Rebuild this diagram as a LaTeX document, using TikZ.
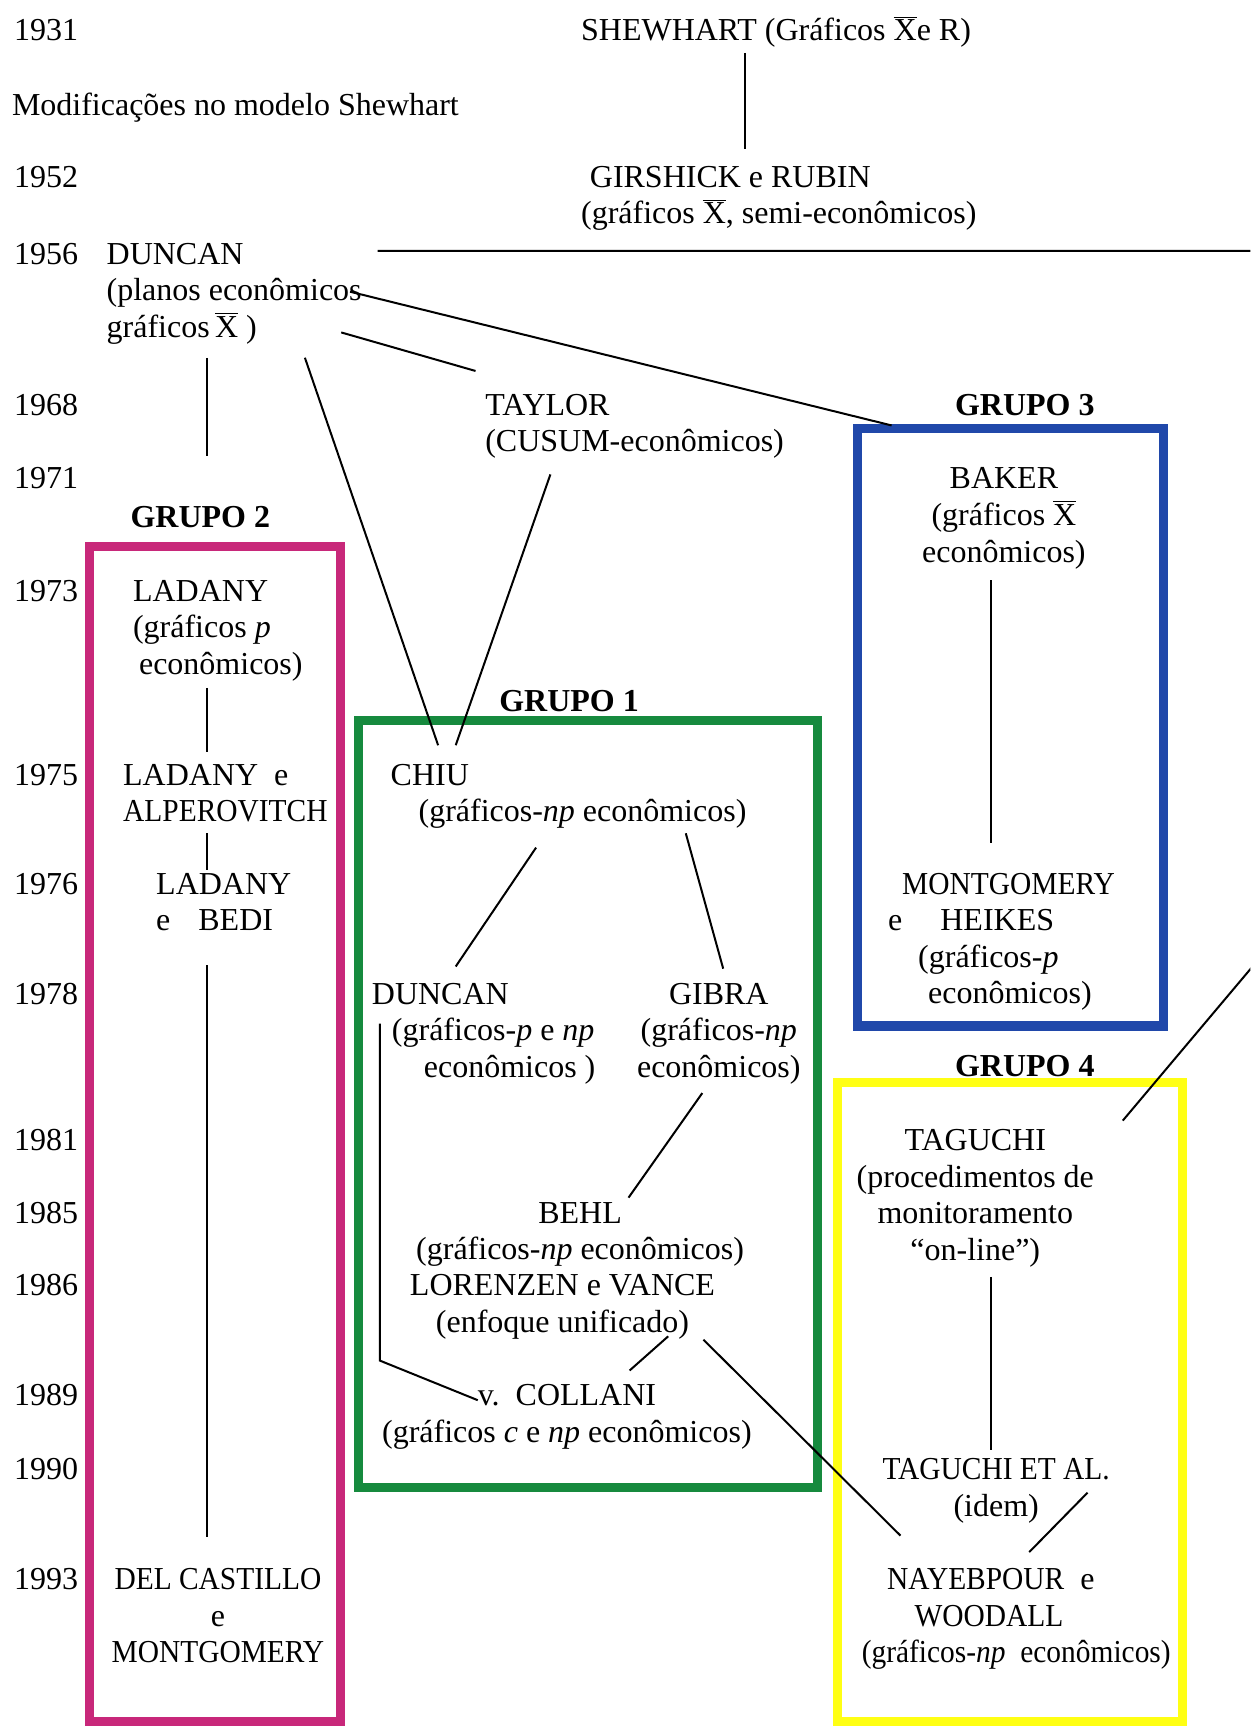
\documentclass[tikz,border=0pt]{standalone}
\usepackage{fontspec}
\setmainfont{Liberation Serif}
\usetikzlibrary{calc}

\definecolor{rosa}{RGB}{200,40,122}
\definecolor{verde}{RGB}{22,138,62}
\definecolor{azul}{RGB}{32,72,170}
\definecolor{amarelo}{RGB}{255,255,20}

\newcommand{\xbarra}{\ensuremath{\overline{\hbox{X}}}}
\newcommand{\estreito}[1]{\scalebox{0.92}[1]{#1}}

\begin{document}
\begin{tikzpicture}[x=0.5506pt, y=-0.5506pt, line width=1pt,
    texto/.style={inner sep=0pt, font=\fontsize{16}{18.3}\selectfont,
        execute at begin node={\lineskiplimit=-\maxdimen\strut}},
    ano/.style={texto, anchor=north west},
    autor/.style={texto, anchor=north, align=center},
    autoresq/.style={texto, anchor=north west, align=left},
    grupo/.style={texto, anchor=north, font=\fontsize{16}{18.3}\selectfont\bfseries},
    caixa/.style={line width=4.6pt}]
    \clip[use as bounding box] (0, 0) rectangle (1136, 1568);

    % years on the left
    \foreach \ano/\yy in {1931/27, 1952/160, 1956/230, 1968/367, 1971/434, 1973/536,
        1975/703, 1976/802, 1978/902, 1981/1035, 1985/1101, 1986/1167,
        1989/1267, 1990/1334, 1993/1434}
        \node[ano] (a\ano) at (12, \yy-14) {\ano};
    \node[ano] (modif) at (10, 81) {Modificações no modelo Shewhart};

    % draw group boxes
    \draw[caixa, rosa] (81.5, 496.5) rectangle (309.5, 1564);
    \draw[caixa, verde] (326, 654.5) rectangle (742.5, 1351);
    \draw[caixa, azul] (779, 389.5) coordinate (g3nw) rectangle (1057, 932);
    \draw[caixa, amarelo] (760.5, 983.5) rectangle (1074.5, 1564);

    \node[grupo] (grupo1) at (517, 622) {GRUPO 1};
    \node[grupo] (grupo2) at (182, 455) {GRUPO 2};
    \node[grupo] (grupo3) at (931, 353) {GRUPO 3};
    \node[grupo] (grupo4) at (931, 954) {GRUPO 4};

    % authors
    \node[texto, anchor=north] (shewhart) at (705, 13) {SHEWHART (Gráficos \xbarra{}e R)};
    \node[autoresq] (girshick) at (527, 146) {\strut\hspace*{4.4pt}GIRSHICK e RUBIN\\(gráficos \xbarra, semi-econômicos)};
    \node[autoresq] (duncan) at (96, 216) {\strut DUNCAN\\(planos econômicos\\gráficos\,\xbarra\ )};
    \node[autoresq] (taylor) at (440, 353) {\strut TAYLOR\\(CUSUM-econômicos)};
    \node[autor] (baker) at (912, 420) {\strut BAKER\\(gráficos \xbarra\\econômicos)};
    \node[autoresq] (montg) at (806, 788) {\strut\hspace*{7pt}\estreito{MONTGOMERY}\\e\hspace*{19pt}HEIKES\\\hspace*{15pt}(gráficos-\textit{p}\\\hspace*{20pt}econômicos)};

    \node[autoresq] (ladanyA) at (120, 522) {\strut LADANY\\(gráficos \textit{p}\\\hspace*{3pt}econômicos)};
    \node[autoresq] (ladanyB) at (111, 689) {\strut LADANY\ \ e\\\estreito{ALPEROVITCH}};
    \node[autoresq] (ladanyC) at (141, 788) {\strut LADANY\\e\hspace*{14pt}BEDI};
    \node[autor] (castillo) at (198, 1420) {\strut\estreito{DEL CASTILLO}\\e\\\estreito{MONTGOMERY}};

    \node[autoresq] (chiu) at (354, 689) {\strut CHIU\\\hspace*{14pt}(gráficos-\textit{np} econômicos)};
    \node[autoresq] (duncanB) at (337, 888) {\strut DUNCAN\\\hspace*{10pt}(gráficos-\textit{p} e \textit{np}\\\hspace*{26pt}econômicos )};
    \node[autor] (gibra) at (653, 888) {\strut GIBRA\\(gráficos-\textit{np}\\econômicos)};
    \node[autor] (behl) at (527, 1087) {\strut BEHL\\(gráficos-\textit{np} econômicos)};
    \node[autor] (lorenzen) at (511, 1153) {\strut LORENZEN e VANCE\\(enfoque unificado)};
    \node[autor] (collani) at (515, 1253) {\strut v.\ \ COLLANI\\(gráficos \textit{c} e \textit{np} econômicos)};

    \node[autor] (taguchi) at (886, 1021) {\strut TAGUCHI\\(procedimentos de\\monitoramento\\“on-line”)};
    \node[autor] (taguchiB) at (905, 1320) {\strut\estreito{TAGUCHI ET AL.}\\(idem)};
    \node[autoresq] (nayeb) at (782, 1420) {\strut\hspace*{12.7pt}\estreito{NAYEBPOUR}\ \ e\\\hspace*{26.4pt}\estreito{WOODALL}\\\estreito{(gráficos-\textit{np}\ \ econômicos)}};

    % draw links
    \draw ($(shewhart.north)+(-28, 35)$) -- ($(girshick.north west)+(150, -11)$);
    \draw ($(duncan.north west)+(247, 12)$) -- (1180, 228) -- (1180, 828) -- ($(taguchi.north)+(134, -3)$);
    \draw ($(duncan.north west)+(92, 109)$) -- ($(ladanyA.north west)+(68, -108)$);
    \draw ($(duncan.north west)+(181, 109)$) -- ($(chiu.north west)+(44, -12)$);
    \draw ($(duncan.north west)+(214, 86)$) -- ($(taylor.north west)+(-8, -16)$);
    \draw ($(duncan.north west)+(222, 49)$) -- ($(g3nw)+(31, -3)$);
    \draw ($(taylor.north west)+(60, 78)$) -- ($(chiu.north west)+(60, -12)$);
    \draw ($(baker.north)+(-12, 107)$) -- ($(montg.north west)+(94, -22)$);

    \draw ($(ladanyA.north west)+(68, 103)$) -- ($(ladanyB.north west)+(77, -6)$);
    \draw ($(ladanyB.north west)+(77, 68)$) -- ($(ladanyC.north west)+(47, 2)$);
    \draw ($(ladanyC.north west)+(47, 89)$) -- ($(castillo.north)+(-10, -24)$);

    \draw ($(chiu.north west)+(133, 81)$) -- ($(duncanB.north west)+(77, -10)$);
    \draw ($(chiu.north west)+(269, 68)$) -- ($(gibra.north)+(4, -8)$);
    \draw ($(gibra.north)+(-15, 105)$) -- ($(behl.north)+(44, 1)$);
    \draw ($(duncanB.north west)+(8, 42)$) -- ($(collani.north)+(-170, -17)$) -- ($(collani.north)+(-81, 19)$);
    \draw ($(lorenzen.north)+(96, 61)$) -- ($(collani.north)+(57, -8)$);
    \draw ($(lorenzen.north)+(128, 64)$) -- ($(nayeb.north west)+(36, -25)$);

    \draw ($(taguchi.north)+(14, 139)$) -- ($(taguchiB.north)+(-5, -3)$);
    \draw ($(taguchiB.north)+(83, 36)$) -- ($(nayeb.north west)+(153, -10)$);
\end{tikzpicture}
\end{document}
